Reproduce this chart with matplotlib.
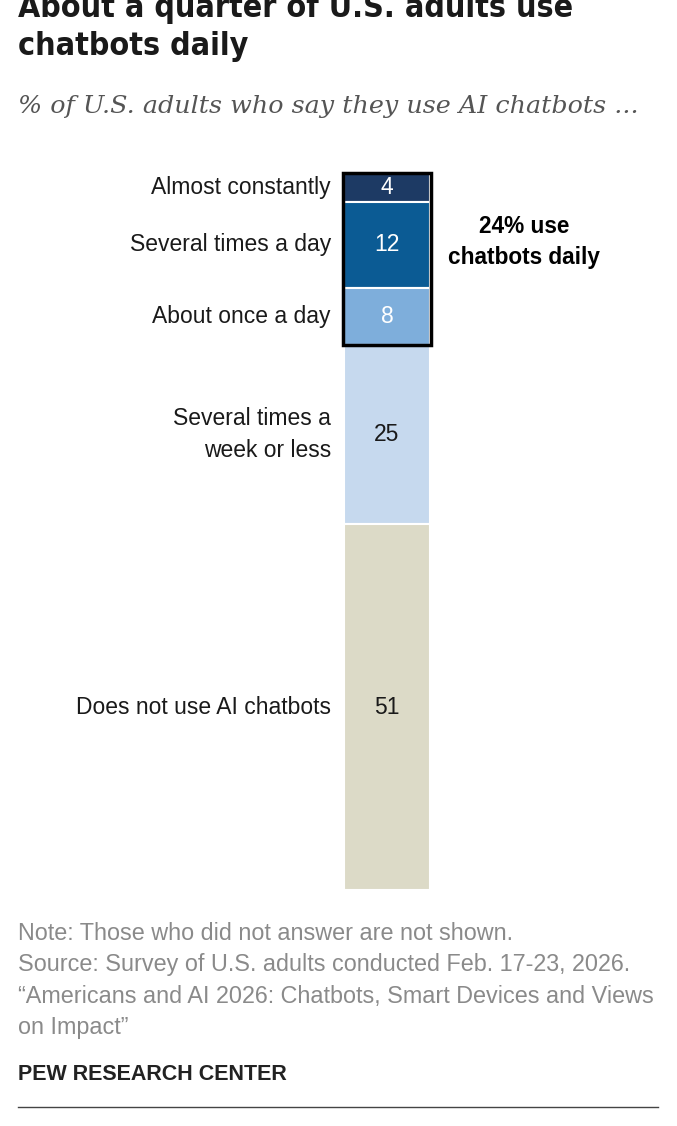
import matplotlib.pyplot as plt
from matplotlib.patches import Rectangle

categories = ["Almost constantly", "Several times a day", "About once a day",
              "Several times a\nweek or less", "Does not use AI chatbots"]
values = [4, 12, 8, 25, 51]
colors = ["#1d3a64", "#0b5b94", "#7eaedb", "#c6d9ee", "#dcdac7"]
text_colors = ["white", "white", "white", "#1a1a1a", "#1a1a1a"]

W, H = 677, 1126
fig = plt.figure(figsize=(W / 100, H / 100), dpi=100)
fig.patch.set_facecolor("white")

def fx(x):
    return x / W

def fy(y):
    return 1 - y / H

sans = ["Liberation Sans", "DejaVu Sans"]

# bar axes: 0..100 percent mapped onto the bar's vertical extent
bar_top, bar_bot = 173, 890
ax = fig.add_axes([0, fy(bar_bot), 1, (bar_bot - bar_top) / H])
ax.set_xlim(0, W)
ax.set_ylim(100, 0)
ax.axis("off")

bottom = 0
for cat, v, c, tc in zip(categories, values, colors, text_colors):
    ax.bar(387, v, width=86, bottom=bottom, color=c, edgecolor="white", linewidth=1.5)
    mid = bottom + v / 2
    ax.text(387, mid, str(v), ha="center", va="center", fontsize=16.5,
            color=tc, family=sans)
    ax.text(331, mid, cat, ha="right", va="center", fontsize=16.5,
            color="#1a1a1a", family=sans, linespacing=1.5)
    bottom += v

daily = sum(values[:3])
ax.add_patch(Rectangle((387 - 44, 0), 88, daily, fill=False, edgecolor="black",
                       linewidth=2.5, clip_on=False, zorder=5))
ax.text(524, 9.6, f"{daily}% use\nchatbots daily", ha="center", va="center",
        fontsize=16.3, fontweight="bold", color="black", family=sans, linespacing=1.44)

# title, subtitle
title_font = dict(ha="left", va="center", fontsize=23, fontweight="bold",
                  color="#1a1a1a", family="DejaVu Sans", fontstretch="condensed")
fig.text(fx(18), fy(8), "About a quarter of U.S. adults use", **title_font)
fig.text(fx(18), fy(47), "chatbots daily", **title_font)
fig.text(fx(18), fy(107), "% of U.S. adults who say they use AI chatbots ...",
         ha="left", va="center", fontsize=18.3, style="italic", color="#555555",
         family=["DejaVu Serif"])

# notes
notes = ["Note: Those who did not answer are not shown.",
         "Source: Survey of U.S. adults conducted Feb. 17-23, 2026.",
         "\u201cAmericans and AI 2026: Chatbots, Smart Devices and Views",
         "on Impact\u201d"]
for i, line in enumerate(notes):
    fig.text(fx(18), fy(933 + i * 31.5), line, ha="left", va="center",
             fontsize=16.8, color="#8a8a8a", family=sans)
fig.text(fx(18), fy(1074), "PEW RESEARCH CENTER", ha="left", va="center",
         fontsize=15.5, fontweight="bold", color="#222222", family=sans)
fig.add_artist(plt.Line2D([fx(18), fx(658)], [fy(1107), fy(1107)],
                          color="#444444", linewidth=1))

fig.savefig("out.png", dpi=100)
